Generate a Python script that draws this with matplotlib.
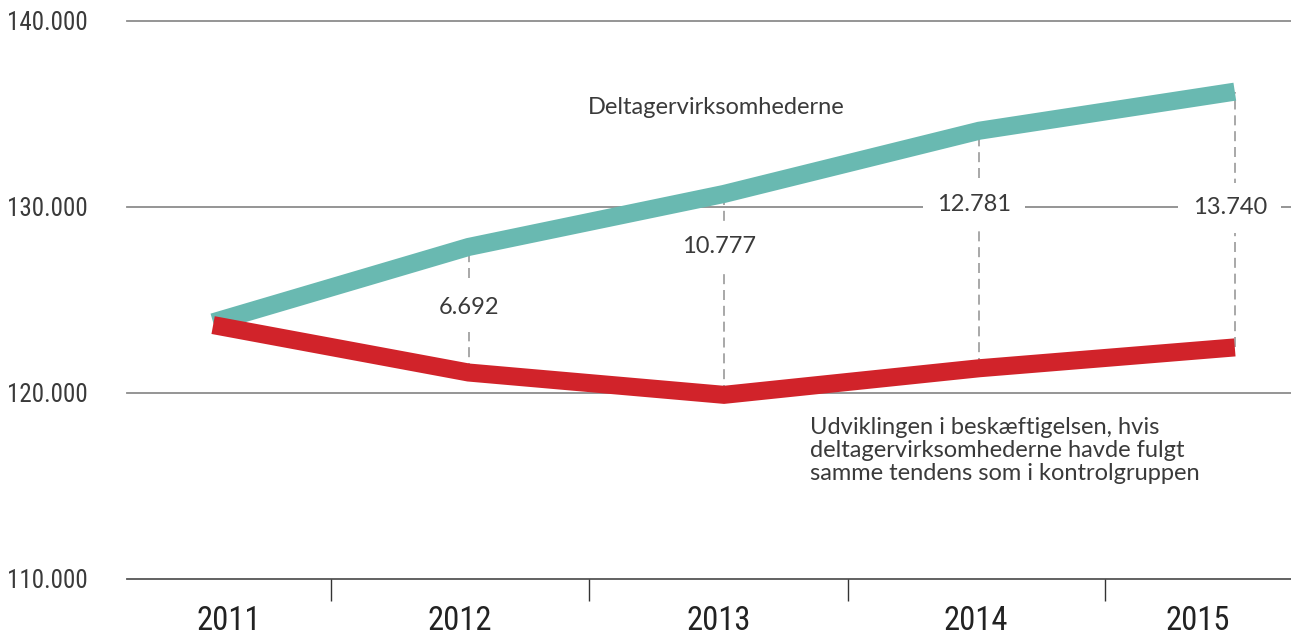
import matplotlib.pyplot as plt

years = ["2011", "2012", "2013", "2014", "2015"]
deltager = [123800, 127850, 130700, 134100, 136200]
kontrol = [123650, 121100, 119900, 121330, 122450]
gap_labels = ["6.692", "10.777", "12.781", "13.740"]
yticks = [110000, 120000, 130000, 140000]
ytick_labels = ["110.000", "120.000", "130.000", "140.000"]

teal = "#69b9b1"
red = "#d1232a"
txt = "#3a3a3a"
body_font = ["Lato", "DejaVu Sans"]
narrow_font = ["Roboto Condensed", "Roboto", "DejaVu Sans"]

fig = plt.figure(figsize=(12.91, 6.35), dpi=100)
ax = fig.add_axes([0.0984, 0.0882, 0.9016, 0.8788])

x = list(range(len(years)))
ax.plot(x, deltager, color=teal, lw=13, solid_capstyle="butt",
        solid_joinstyle="miter", zorder=3)
ax.plot(x, kontrol, color=red, lw=13, solid_capstyle="butt",
        solid_joinstyle="miter", zorder=4)

# dashed difference lines with labels
label_y = [124600, 127900, 130150, 129950]
for i, lab in enumerate(gap_labels, start=1):
    ax.vlines(i, kontrol[i], deltager[i], colors="#9a9a9a",
              linestyles=(0, (6, 3.5)), lw=1.2, zorder=2)
    ax.text(i - 0.02 * (i > 1), label_y[i - 1], lab, ha="center", va="center",
            fontsize=17, color=txt, family=body_font, zorder=2.5,
            bbox=dict(boxstyle="square,pad=0.6", fc="white", ec="none"))

# gridlines
for v in yticks:
    col = "#555555" if v == yticks[0] else "#8c8c8c"
    ax.axhline(v, color=col, lw=1.3, zorder=1, clip_on=False)

ax.set_ylim(110000, 140000)
ax.set_yticks(yticks)
ax.set_yticklabels(ytick_labels, family=narrow_font, fontsize=18, color=txt)
ax.tick_params(axis="y", length=0, pad=28)

# year cells with separators
xlim = (-0.337, 4.22)
seps = [0.46, 1.47, 2.485, 3.49]
edges = [xlim[0]] + seps + [xlim[1]]
centers = [(edges[k] + edges[k + 1]) / 2 for k in range(len(years))]
ax.set_xlim(*xlim)
ax.set_xticks(centers)
ax.set_xticklabels(years, family=narrow_font, fontsize=23.5, color="#222222")
ax.set_xticks(seps, minor=True)
ax.tick_params(axis="x", which="major", length=0, pad=19)
ax.tick_params(axis="x", which="minor", length=16, width=1, color="#333333")

for s in ax.spines.values():
    s.set_visible(False)

ax.text(1.468, 135323, "Deltagervirksomhederne", ha="left", va="center",
        fontsize=17, color=txt, family=body_font)
ax.text(2.337, 116900,
        "Udviklingen i beskæftigelsen, hvis\n"
        "deltagervirksomhederne havde fulgt\n"
        "samme tendens som i kontrolgruppen",
        ha="left", va="center", fontsize=17, color=txt,
        family=body_font, linespacing=1.1)

fig.savefig("out.png", dpi=100)
